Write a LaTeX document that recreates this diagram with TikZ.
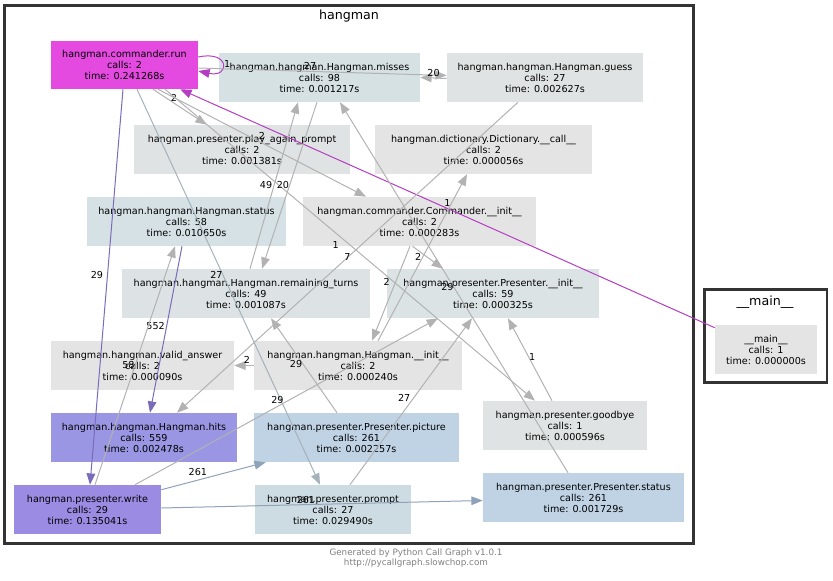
\documentclass[tikz,border=0pt]{standalone}
\usepackage{fontspec}
\setmainfont{DejaVu Sans}
\usepackage{tikz}
\usetikzlibrary{calc, arrows.meta}

\definecolor{runfill}{HTML}{E44AE0}
\definecolor{missfill}{HTML}{D6E1E4}
\definecolor{lightfill}{HTML}{E0E3E3}
\definecolor{greyfill}{HTML}{E4E4E4}
\definecolor{statfill}{HTML}{D5E1E5}
\definecolor{turnfill}{HTML}{DDE2E4}
\definecolor{initfill}{HTML}{DCE3E5}
\definecolor{hitfill}{HTML}{9A96E4}
\definecolor{picfill}{HTML}{C0D3E5}
\definecolor{writefill}{HTML}{9B8BE3}
\definecolor{promptfill}{HTML}{CDDCE3}
\definecolor{linegrey}{HTML}{B2B2B2}
\definecolor{blueline}{HTML}{A4B2BC}
\definecolor{steelline}{HTML}{8FA2B8}
\definecolor{purpleline}{HTML}{7A6CBA}
\definecolor{magentaline}{HTML}{B53DC3}
\definecolor{clusterline}{HTML}{333333}

\tikzset{
  fn/.style 2 args = {fill = #1, minimum width = #2*0.75pt,
    minimum height = 49*0.75pt}
}

\begin{document}
\begin{tikzpicture}[
    x = 0.75pt, y = -0.75pt,
    every node/.style = {align = center, inner sep = 0pt,
      font = \fontsize{7.2}{8.25}\selectfont},
    call/.style = {draw = linegrey, line width = 0.75pt,
      -{Triangle[length = 8.5pt, width = 6.5pt]}},
    lbl/.style = {font = \fontsize{7.2}{8}\selectfont},
    cluster/.style = {draw = clusterline, line width = 1.9pt},
    title/.style = {font = \fontsize{9.5}{11}\selectfont}
  ]
  \useasboundingbox (0,0) rectangle (833,581);

  % clusters
  \draw[cluster] (4.5,5.5) rectangle (693.5,543.5);
  \node[title] (hangmantitle) at (349,16) {hangman};
  \draw[cluster] (704.5,289.5) rectangle (827,382.5);
  \node[title] (maintitle) at (765,302) {\_\_main\_\_};

  \node[fn={runfill}{147}, minimum height = 48*0.75pt] (run) at (124.5,65)
    {hangman.commander.run\\calls: 2\\time: 0.241268s};
  \node[fn={missfill}{201}] (misses) at (319.5,77.5)
    {hangman.hangman.Hangman.misses\\calls: 98\\time: 0.001217s};
  \node[fn={lightfill}{196}] (guess) at (545,77.5)
    {hangman.hangman.Hangman.guess\\calls: 27\\time: 0.002627s};
  \node[fn={lightfill}{216}] (play) at (242,149.5)
    {hangman.presenter.play\_again\_prompt\\calls: 2\\time: 0.001381s};
  \node[fn={greyfill}{217}] (dict) at (483.5,149.5)
    {hangman.dictionary.Dictionary.\_\_call\_\_\\calls: 2\\time: 0.000056s};
  \node[fn={statfill}{199}] (hstatus) at (186.5,221.5)
    {hangman.hangman.Hangman.status\\calls: 58\\time: 0.010650s};
  \node[fn={greyfill}{233}] (cinit) at (419.5,221.5)
    {hangman.commander.Commander.\_\_init\_\_\\calls: 2\\time: 0.000283s};
  \node[fn={turnfill}{248}] (remaining) at (246,293.5)
    {hangman.hangman.Hangman.remaining\_turns\\calls: 49\\time: 0.001087s};
  \node[fn={initfill}{212}] (pinit) at (493,293.5)
    {hangman.presenter.Presenter.\_\_init\_\_\\calls: 59\\time: 0.000325s};
  \node[fn={greyfill}{183}] (valid) at (142.5,365.5)
    {hangman.hangman.valid\_answer\\calls: 2\\time: 0.000090s};
  \node[fn={greyfill}{208}] (hinit) at (358,365.5)
    {hangman.hangman.Hangman.\_\_init\_\_\\calls: 2\\time: 0.000240s};
  \node[fn={lightfill}{164}] (goodbye) at (565,425.5)
    {hangman.presenter.goodbye\\calls: 1\\time: 0.000596s};
  \node[fn={hitfill}{186}] (hits) at (144,437.5)
    {hangman.hangman.Hangman.hits\\calls: 559\\time: 0.002478s};
  \node[fn={picfill}{205}] (picture) at (356.5,437.5)
    {hangman.presenter.Presenter.picture\\calls: 261\\time: 0.002257s};
  \node[fn={writefill}{147}] (write) at (87.5,509.5)
    {hangman.presenter.write\\calls: 29\\time: 0.135041s};
  \node[fn={promptfill}{156}] (prompt) at (333,509.5)
    {hangman.presenter.prompt\\calls: 27\\time: 0.029490s};
  \node[fn={picfill}{201}] (pstatus) at (583.5,497.5)
    {hangman.presenter.Presenter.status\\calls: 261\\time: 0.001729s};
  \node[fn={greyfill}{102}] (main) at (766,349.5)
    {\_\_main\_\_\\calls: 1\\time: 0.000000s};

  % calls
  \draw[call, draw = magentaline] ($(main.north west)+(0,3)$) -- ($(run.south east)+(-18,0)$)
    node[lbl, pos = .5, above = 1pt] {1};
  \draw[call, draw = magentaline] ($(run.east)+(0,-8)$)
    .. controls +(32,-7) and +(32,7) .. ($(run.east)+(0,6)$)
    node[lbl, pos = .5, right = 1pt] {1};
  \draw[call] ($(run.east)+(0,3)$) -- ($(guess.west)+(0,-2)$)
    node[lbl, pos = .45, above = 1pt] {27};
  \draw[call] ($(guess.west)+(0,1)$) -- (misses.east)
    node[lbl, pos = .5, above = 1pt] {20};
  \draw[call] ($(run.south)+(28.5,0)$) -- ($(play.north west)+(73,0)$)
    node[lbl, pos = .39, above = 1pt] {2};
  \draw[call] ($(run.south)+(33.5,0)$) -- ($(cinit.north)+(-53.5,0)$)
    node[lbl, pos = .5, above = 2pt] {2};
  \draw[call, draw = purpleline] ($(run.south)+(-1.5,0)$) -- ($(write.north)+(2.5,0)$)
    node[lbl, pos = .47, left = 3pt] {29};
  \draw[call, draw = blueline] ($(run.south)+(12.5,0)$) -- ($(prompt.north)+(-13,0)$)
    node[lbl, pos = .47, left = 0pt] {27};
  \draw[call] ($(run.south)+(40.5,0)$) -- ($(goodbye.north)+(-30,0)$)
    node[lbl, pos = .5, left = 8pt] {1};
  \draw[call] ($(guess.south)+(-27,0)$) -- ($(hits.north)+(33,0)$)
    node[lbl, pos = .5] {7};
  \draw[call] ($(remaining.north)+(4,0)$) -- ($(misses.south)+(-21.5,0)$)
    node[lbl, pos = .5, left = 1pt] {49};
  \draw[call] ($(misses.south)+(-2.5,0)$) -- ($(remaining.north)+(16,0)$)
    node[lbl, pos = .5, left = 0pt] {20};
  \draw[call] ($(pstatus.north)+(-15.5,0)$) -- ($(misses.south)+(20.5,0)$)
    node[lbl, pos = .5, left = 0pt] {29};
  \draw[call, draw = purpleline] ($(hstatus.south)+(-4.5,0)$) -- ($(hits.north)+(6,0)$)
    node[lbl, pos = .48, left = 1pt] {552};
  \draw[call] ($(write.north)+(7.5,0)$) -- ($(hstatus.south)+(-11.5,0)$)
    node[lbl, pos = .5, left = 0pt] {58};
  \draw[call] (hinit.west) -- (valid.east)
    node[lbl, pos = .35, above = 1pt] {2};
  \draw[call] ($(cinit.south)+(-9.5,0)$) -- ($(hinit.north)+(14,0)$)
    node[lbl, pos = .38, left = 4pt] {2};
  \draw[call] ($(cinit.south)+(-7,0)$) -- ($(pinit.north)+(-50,0)$)
    node[lbl, pos = .3, below left = 0pt] {2};
  \draw[call] ($(hinit.north)+(20,0)$) -- ($(dict.south)+(-16.5,0)$);
  \draw[call, draw = steelline] ($(write.north east)+(0,5)$) -- ($(picture.south west)+(12,0)$)
    node[lbl, pos = .35, above = 3pt] {261};
  \draw[call, draw = steelline] ($(write.east)+(0,-1.5)$) -- ($(pstatus.west)+(0,3)$)
    node[lbl, pos = .45, above = 0pt] {261};
  \draw[call] ($(write.north)+(47.5,0)$) -- ($(pinit.south)+(-55,0)$)
    node[lbl, pos = .47, above = 2pt] {29};
  \draw[call] ($(prompt.north)+(17,0)$) -- ($(pinit.south)+(-21,0)$)
    node[lbl, pos = .52, left = 2pt] {27};
  \draw[call] ($(goodbye.north)+(-13,0)$) -- ($(pinit.south)+(15,0)$)
    node[lbl, pos = .53, right = 0pt] {1};
  \draw[call] ($(picture.north)+(-19.5,0)$) -- ($(remaining.south)+(25,0)$)
    node[lbl, pos = .52, left = 0pt] {29};

  \node[font = \fontsize{6.6}{7.5}\selectfont, text = gray] (footer) at (416,558)
    {Generated by Python Call Graph v1.0.1\\http://pycallgraph.slowchop.com};
\end{tikzpicture}
\end{document}
